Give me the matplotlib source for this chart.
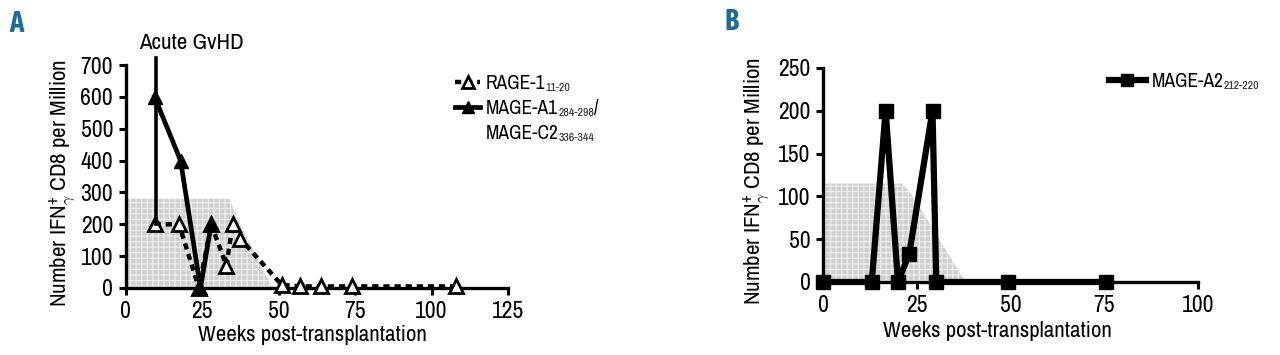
import numpy as np
import matplotlib.pyplot as plt
from matplotlib import font_manager
from matplotlib.lines import Line2D

# narrow faces, if around
names = set(f.name for f in font_manager.fontManager.ttflist)
narrow = next((n for n in ['Archivo Narrow', 'Liberation Sans Narrow', 'Barlow Semi Condensed',
                           'Asap Condensed', 'Barlow Condensed'] if n in names), 'DejaVu Sans')
bold_face = next((f.name for f in font_manager.fontManager.ttflist
                  if f.name in ('Barlow Condensed', 'Asap Condensed', 'Archivo Narrow',
                                'Barlow Semi Condensed')
                  and isinstance(f.weight, int) and f.weight >= 600), narrow)

plt.rcParams['font.family'] = [narrow, 'DejaVu Sans']
plt.rcParams['mathtext.fontset'] = 'custom'
plt.rcParams['mathtext.rm'] = narrow
plt.rcParams['mathtext.it'] = narrow
plt.rcParams['hatch.linewidth'] = 0.8

# panel A data
rage_weeks = [9.5, 17.5, 24, 28, 33, 35, 37.5, 51, 57, 64, 74, 108]
rage_vals = [200, 200, 0, 200, 70, 200, 155, 10, 5, 5, 5, 5]
mage_a1_weeks = [9.5, 18, 24.5, 28]
mage_a1_vals = [600, 400, 0, 200]
gvhd_week = 10
shade_a_weeks = [0, 0, 34, 36, 48]
shade_a_vals = [0, 280, 280, 230, 0]

# panel B data
mage_a2_weeks = [0, 13, 16.7, 20, 23, 29.2, 30.2, 49.3, 75.5]
mage_a2_vals = [0, 0, 200, 0, 33, 200, 0, 0, 0]
shade_b_weeks = [0, 0, 21, 24, 38]
shade_b_vals = [0, 115, 115, 100, 0]

ylab = 'Number IFN$_{\\gamma}^{+}$ CD8 per Million'
xlab = 'Weeks post-transplantation'

fig = plt.figure(figsize=(12.8, 3.55), dpi=100)
axA = fig.add_axes([125.5 / 1280, 1 - 288 / 355, 382.5 / 1280, 223 / 355])
axB = fig.add_axes([823 / 1280, 1 - 282 / 355, 375 / 1280, 214 / 355])


def style(ax, xmax, xstep, ymax, ystep):
    ax.set_xlim(0, xmax)
    ax.set_ylim(0, ymax)
    ax.set_xticks(np.arange(0, xmax + 1, xstep))
    ax.set_yticks(np.arange(0, ymax + 1, ystep))
    for s in ['top', 'right']:
        ax.spines[s].set_visible(False)
    for s in ['left', 'bottom']:
        ax.spines[s].set_linewidth(2.4)
    ax.tick_params(width=2.2, length=5, labelsize=17, pad=4)
    ax.set_xlabel(xlab, fontsize=16.5)
    ax.set_ylabel(ylab, fontsize=16.5)


def add_sub(leg_text, sub, tail=None):
    a = leg_text.axes.annotate(sub, xy=(1, 0), xycoords=leg_text, fontsize=8.5,
                               ha='left', va='bottom', color='#222222', zorder=10)
    if tail:
        leg_text.axes.annotate(tail, xy=(1, 0), xycoords=a, fontsize=14,
                               ha='left', va='bottom', zorder=11)


# ---- A ----
axA.fill(shade_a_weeks, shade_a_vals, facecolor='#d0d0d0', edgecolor='#efefef',
         hatch='+++', linewidth=0, zorder=1)
axA.plot(rage_weeks, rage_vals, color='black', lw=3.2, ls=(0, (1.4, 1.1)),
         marker='^', ms=10, mfc='white', mec='black', mew=2, zorder=3, clip_on=False)
axA.plot(mage_a1_weeks, mage_a1_vals, color='black', lw=3.4, marker='^', ms=10,
         zorder=4, clip_on=False)
axA.plot([gvhd_week, gvhd_week], [200, 722], color='black', lw=2.6, clip_on=False, zorder=4)
axA.text(21.5, 768, 'Acute GvHD', fontsize=16.5, ha='center', va='center')
style(axA, 125, 25, 700, 100)
axA.xaxis.set_label_coords(0.49, -0.165)
axA.yaxis.set_label_coords(-0.123, 0.47)

hA = [Line2D([], [], color='black', lw=3.2, ls=(0, (1.4, 1.1)), marker='^', ms=9,
             mfc='white', mec='black', mew=2),
      Line2D([], [], color='black', lw=3.4, marker='^', ms=9),
      Line2D([], [], ls='none')]
legA = axA.legend(hA, ['RAGE-1', 'MAGE-A1', 'MAGE-C2'], loc='upper left',
                  bbox_to_anchor=(455 / 1280, 1 - 74 / 355), bbox_transform=fig.transFigure,
                  frameon=False, fontsize=14, handlelength=1.3, handletextpad=0.3,
                  borderpad=0, borderaxespad=0, labelspacing=0.3)
ta = legA.get_texts()
add_sub(ta[0], '11-20')
add_sub(ta[1], '284-298', '/')
add_sub(ta[2], '336-344')

# ---- B ----
axB.fill(shade_b_weeks, shade_b_vals, facecolor='#d0d0d0', edgecolor='#efefef',
         hatch='+++', linewidth=0, zorder=1)
axB.plot(mage_a2_weeks, mage_a2_vals, color='black', lw=4.5, marker='s', ms=10,
         zorder=3, clip_on=False)
style(axB, 100, 25, 250, 50)
axB.xaxis.set_label_coords(0.465, -0.18)
axB.yaxis.set_label_coords(-0.136, 0.47)
hB = [Line2D([], [], color='black', lw=4.5, marker='s', ms=9)]
legB = axB.legend(hB, ['MAGE-A2'], loc='upper left',
                  bbox_to_anchor=(1109 / 1280, 1 - 72 / 355), bbox_transform=fig.transFigure,
                  frameon=False, fontsize=14, handlelength=1.9, handletextpad=0.3,
                  borderpad=0, borderaxespad=0)
add_sub(legB.get_texts()[0], '212-220')

fig.text(16 / 1280, 1 - 24 / 355, 'A', fontsize=21, fontweight='bold', color='#1c6e97',
         family=[bold_face, 'DejaVu Sans'], ha='center', va='center')
fig.text(731 / 1280, 1 - 22 / 355, 'B', fontsize=21, fontweight='bold', color='#1c6e97',
         family=[bold_face, 'DejaVu Sans'], ha='center', va='center')

fig.savefig('out.png', dpi=100)
